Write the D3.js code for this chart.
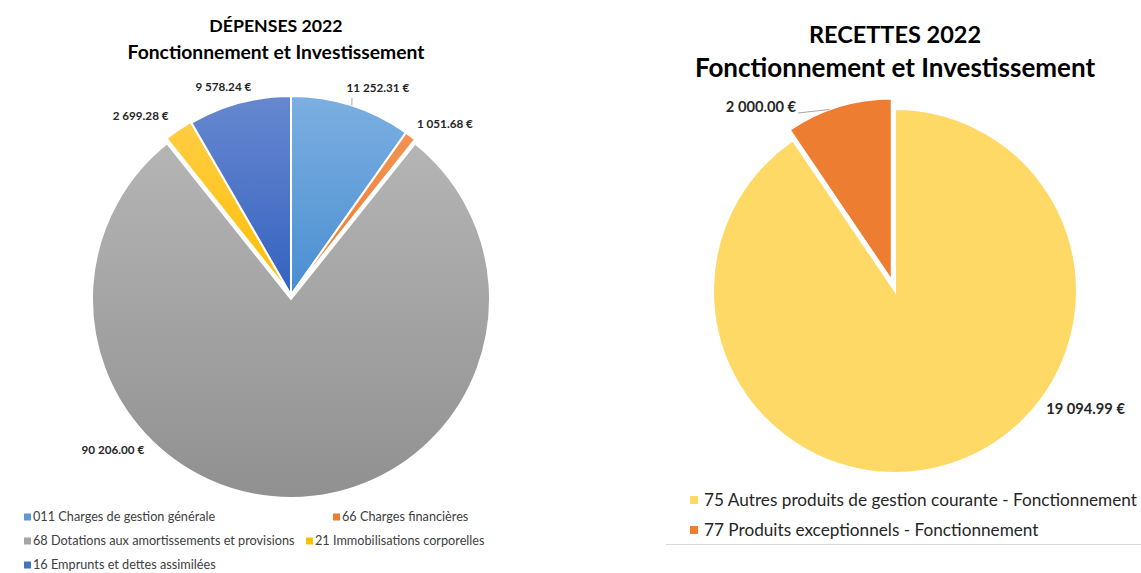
<!DOCTYPE html>
<html>
<head>
<meta charset="utf-8">
<script src="https://cdn.jsdelivr.net/npm/d3@7"></script>
<style>
	body { margin: 0; background: #fff; }
	svg { display: block; font-family: Lato, "Liberation Sans", sans-serif; }
</style>
</head>
<body>
<svg id="chart" width="1141" height="573"></svg>
<script>
// Dépenses 2022
let depCategories = ["011 Charges de gestion générale", "66 Charges financières",
	"68 Dotations aux amortissements et provisions", "21 Immobilisations corporelles",
	"16 Emprunts et dettes assimilées"];
let depValues = [11252.31, 1051.68, 90206.00, 2699.28, 9578.24];
let depLabels = ["11 252.31 €", "1 051.68 €", "90 206.00 €", "2 699.28 €", "9 578.24 €"];

// Recettes 2022
let recCategories = ["75 Autres produits de gestion courante - Fonctionnement",
	"77 Produits exceptionnels - Fonctionnement"];
let recValues = [19094.99, 2000.00];
let recLabels = ["19 094.99 €", "2 000.00 €"];

let svg = d3.select("#chart");
let defs = svg.append("defs");

// gradients for the left pie (lighter on top, darker below)
let depGradients = [
	["#7cafe1", "#4a8ed2", "#3b7cc2"],
	["#f5975a", "#ed7d31", "#dc6c22"],
	["#b9b9b9", "#a5a5a5", "#909090"],
	["#ffcf50", "#ffbf00", "#eeae00"],
	["#6788cf", "#3462c0", "#2a55ad"]
];

depGradients.forEach((c, i) => {
	let grad = defs.append("linearGradient")
		.attr("id", "dep" + i)
		.attr("gradientUnits", "userSpaceOnUse")
		.attr("x1", 0).attr("x2", 0)
		.attr("y1", -200).attr("y2", 200);
	grad.append("stop").attr("offset", "0%").attr("stop-color", c[0]);
	grad.append("stop").attr("offset", "50%").attr("stop-color", c[1]);
	grad.append("stop").attr("offset", "100%").attr("stop-color", c[2]);
});

function drawPie(opts) {
	let g = svg.append("g").attr("transform", "translate(" + opts.cx + "," + opts.cy + ")");
	let pie = d3.pie().sort(null).value(d => d);
	let arc = d3.arc().innerRadius(0).outerRadius(opts.r);
	let arcs = pie(opts.values);

	g.selectAll("path")
		.data(arcs)
		.enter()
		.append("path")
		.attr("d", arc)
		.attr("transform", (d, i) => {
			let mid = (d.startAngle + d.endAngle) / 2;
			let off = opts.explode[i] || 0;
			return "translate(" + (off * Math.sin(mid)) + "," + (-off * Math.cos(mid)) + ")";
		})
		.attr("fill", (d, i) => opts.fill(i))
		.attr("stroke", "#fff")
		.attr("stroke-width", 2);

	// data labels
	g.selectAll("text.lbl")
		.data(arcs)
		.enter()
		.append("text")
		.attr("class", "lbl")
		.attr("x", (d, i) => opts.labelPos[i][1] * Math.sin(opts.labelPos[i][0] * Math.PI / 180))
		.attr("y", (d, i) => -opts.labelPos[i][1] * Math.cos(opts.labelPos[i][0] * Math.PI / 180))
		.attr("dy", "0.35em")
		.attr("text-anchor", "middle")
		.attr("font-size", opts.labelSize)
		.attr("font-weight", "bold")
		.attr("fill", "#262626")
		.text((d, i) => opts.labels[i]);

	// leader lines
	opts.leaders.forEach(l => {
		let d = arcs[l.i];
		let a = l.angle * Math.PI / 180;
		let off = opts.explode[l.i] || 0;
		let mid = (d.startAngle + d.endAngle) / 2;
		let x0 = opts.r * Math.sin(a) + off * Math.sin(mid),
			y0 = -opts.r * Math.cos(a) - off * Math.cos(mid);
		g.append("line")
			.attr("x1", x0).attr("y1", y0)
			.attr("x2", l.x2).attr("y2", l.y2)
			.attr("stroke", "#a6a6a6")
			.attr("stroke-width", 1);
	});
	return g;
}

// Left: Dépenses
drawPie({
	cx: 291, cy: 295, r: 199,
	values: depValues,
	labels: depLabels,
	fill: i => "url(#dep" + i + ")",
	explode: [0, 0, 4, 1, 0],
	labelPos: [[22.7, 225], [42, 230], [229, 236], [320, 234], [342, 219]],
	labelSize: 11.7,
	leaders: [{i: 0, angle: 17.8, x2: 61, y2: -197}]
});

// Right: Recettes
let recColors = ["#ffd966", "#ed7d31"];
drawPie({
	cx: 895, cy: 291, r: 182,
	values: recValues,
	labels: recLabels,
	fill: i => recColors[i],
	explode: [0, 11],
	labelPos: [[121.7, 224], [324, 228]],
	labelSize: 14.7,
	leaders: [{i: 1, angle: 340, x2: -97, y2: -178}]
});

// Titles
let titles = [
	{x: 276, y: [32, 59], size: [17.7, 19.3], text: ["DÉPENSES 2022", "Fonctionnement et Investissement"]},
	{x: 895, y: [43, 77], size: [23.5, 26], text: ["RECETTES 2022", "Fonctionnement et Investissement"]}
];
titles.forEach(t => {
	t.text.forEach((s, k) => {
		svg.append("text")
			.attr("x", t.x)
			.attr("y", t.y[k])
			.attr("text-anchor", "middle")
			.attr("font-size", t.size[k])
			.attr("font-weight", "bold")
			.attr("fill", "#000")
			.text(s);
	});
});

// Legends
let depLegendPos = [[24, 517], [333, 517], [24, 541], [306, 541], [24, 565]];
let depLegendColors = ["#5b9bd5", "#ed7d31", "#a5a5a5", "#ffc000", "#4472c4"];
let depLegend = svg.selectAll("g.dleg")
	.data(depCategories)
	.enter()
	.append("g")
	.attr("class", "dleg")
	.attr("transform", (d, i) => "translate(" + depLegendPos[i][0] + "," + depLegendPos[i][1] + ")");
depLegend.append("rect")
	.attr("x", 0).attr("y", -3.5)
	.attr("width", 7).attr("height", 7)
	.attr("fill", (d, i) => depLegendColors[i]);
depLegend.append("text")
	.attr("x", 9)
	.attr("dy", "0.35em")
	.attr("font-size", 12.7)
	.attr("fill", "#404040")
	.text(d => d);

let recLegend = svg.selectAll("g.rleg")
	.data(recCategories)
	.enter()
	.append("g")
	.attr("class", "rleg")
	.attr("transform", (d, i) => "translate(690," + (500 + i * 30) + ")");
recLegend.append("rect")
	.attr("x", 0).attr("y", -4)
	.attr("width", 8).attr("height", 8)
	.attr("fill", (d, i) => recColors[i]);
recLegend.append("text")
	.attr("x", 14)
	.attr("dy", "0.35em")
	.attr("font-size", 17.2)
	.attr("fill", "#262626")
	.text(d => d);

// chart frame bottom edge on the right
svg.append("line")
	.attr("x1", 666).attr("x2", 1141)
	.attr("y1", 544.5).attr("y2", 544.5)
	.attr("stroke", "#d9d9d9")
	.attr("stroke-width", 1);
</script>
</body>
</html>
